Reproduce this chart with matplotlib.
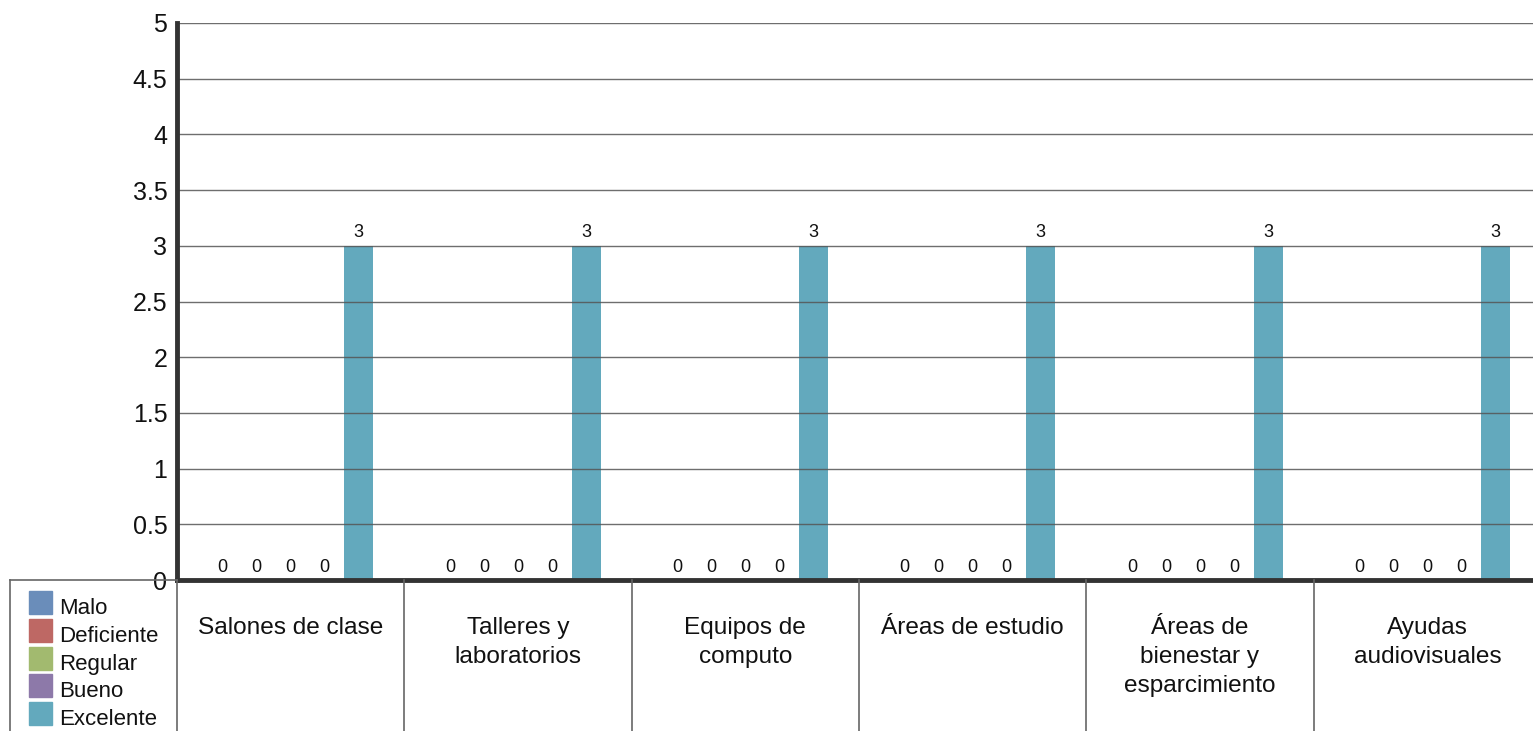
import matplotlib.pyplot as plt
import numpy as np
from matplotlib.lines import Line2D
from matplotlib.patches import Rectangle

plt.rcParams['font.family'] = ['Liberation Sans', 'DejaVu Sans']

categories = ["Salones de clase", "Talleres y\nlaboratorios", "Equipos de\ncomputo",
              "Áreas de estudio", "Áreas de\nbienestar y\nesparcimiento", "Ayudas\naudiovisuales"]
series = ["Malo", "Deficiente", "Regular", "Bueno", "Excelente"]
colors = ["#6a8dba", "#be6864", "#a2ba6f", "#8d79a9", "#63a9bd"]
malo = [0, 0, 0, 0, 0, 0]
deficiente = [0, 0, 0, 0, 0, 0]
regular = [0, 0, 0, 0, 0, 0]
bueno = [0, 0, 0, 0, 0, 0]
excelente = [3, 3, 3, 3, 3, 3]
values = [malo, deficiente, regular, bueno, excelente]
yticks = np.arange(0, 5.01, 0.5)

W, H = 1533, 731
fig = plt.figure(figsize=(W / 100, H / 100), dpi=100)

# plot area in pixels
x0, x1 = 177, 1541
y_top, y_bot = 23, 580
ax = fig.add_axes([x0 / W, (H - y_bot) / H, (x1 - x0) / W, (y_bot - y_top) / H])

n = len(categories)
x = np.arange(n)
step = 34 / 227.3
bw = 29 / 227.3
for i, (name, vals, c) in enumerate(zip(series, values, colors)):
    pos = x + (i - 2) * step
    bars = ax.bar(pos, vals, width=bw, color=c, zorder=2)
    for b, v in zip(bars, vals):
        ax.text(b.get_x() + b.get_width() / 2, v + 0.04, f"{v:g}",
                ha="center", va="bottom", fontsize=13, color="#111111", zorder=4)

ax.set_xlim(-0.5, n - 0.5)
ax.set_ylim(0, 5)
ax.set_yticks(yticks)
ax.set_yticklabels([f"{t:g}" for t in yticks], fontsize=18, color="#111111")
ax.set_xticks([])
ax.tick_params(axis="y", length=0, pad=7)
for t in yticks:
    ax.axhline(t, color="#555555", lw=1, alpha=0.85, zorder=3)
for s in ["top", "right"]:
    ax.spines[s].set_visible(False)
for s in ["left", "bottom"]:
    ax.spines[s].set_linewidth(3.5)
    ax.spines[s].set_color("#333333")
    ax.spines[s].set_zorder(5)


def fx(px):
    return px / W


def fy(py):
    return (H - py) / H


# data table below the chart
line_kw = dict(color="#666666", lw=1.2)
fig.add_artist(Line2D([fx(10), fx(x0)], [fy(y_bot), fy(y_bot)], **line_kw))
fig.add_artist(Line2D([fx(10), fx(10)], [fy(y_bot), fy(H)], **line_kw))
cw = (x1 - x0) / n
for k in range(n + 1):
    xp = x0 + k * cw
    fig.add_artist(Line2D([fx(xp), fx(xp)], [fy(y_bot), fy(H)], **line_kw))
for k, cat in enumerate(categories):
    fig.text(fx(x0 + (k + 0.5) * cw), fy(617), cat, ha="center", va="top",
             fontsize=17.6, linespacing=1.42, color="#111111")

# legend in the first cell
for i, (name, c) in enumerate(zip(series, colors)):
    yb = 614 + i * 27.8
    fig.add_artist(Rectangle((fx(29), fy(yb)), fx(23), 23 / H, color=c,
                             transform=fig.transFigure))
    fig.text(fx(59), fy(yb), name, ha="left", va="baseline", fontsize=16, color="#111111")

fig.savefig("out.png", dpi=100)
